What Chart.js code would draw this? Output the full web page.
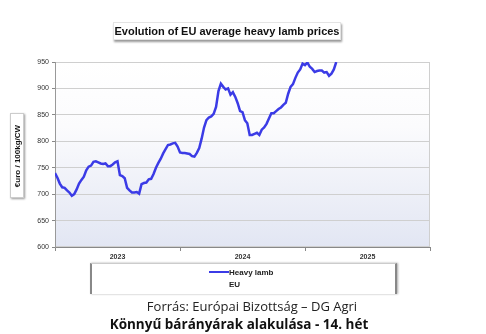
<!DOCTYPE html>
<html><head><meta charset="utf-8">
<script src="https://cdn.jsdelivr.net/npm/chart.js@4/dist/chart.umd.min.js"></script>
<style>
html,body{margin:0;padding:0;background:#fff;width:486px;height:334px;overflow:hidden;position:relative;font-family:"Liberation Sans",Arial,sans-serif;}
#c{position:absolute;left:0;top:0;}
.title{position:absolute;left:113px;top:22px;width:226px;height:16px;line-height:16px;text-align:center;font-weight:bold;font-size:11px;color:#111;background:#fff;border:1px solid #e4e4e4;box-shadow:1px 2px 2px #999;white-space:nowrap;}
.ytitle{position:absolute;left:10px;top:113px;width:12px;height:83px;border:1px solid #ccc;box-shadow:1px 1px 2px #999;background:#fff;}
.ytitle span{position:absolute;left:50%;top:50%;transform:translate(-50%,-50%) rotate(-90deg);font-weight:bold;font-size:8px;white-space:nowrap;color:#111;}
.legend{position:absolute;left:90px;top:263px;width:303px;height:30px;border-left:2px solid #888;border-right:2px solid #888;border-top:1px solid #ccc;box-shadow:1px 0 2px #aaa;background:#fff;}
.lg1{position:absolute;left:117px;top:4px;font-weight:bold;font-size:8px;color:#222;white-space:nowrap;}
.lg1 i{display:inline-block;width:20px;height:2px;background:#3b3be6;vertical-align:middle;margin-right:0px;position:relative;top:-1px;}
.lg2{position:absolute;left:137px;top:16px;font-weight:bold;font-size:8px;color:#222;}
.src{position:absolute;left:0;width:504px;text-align:center;top:297px;font-family:"Open Sans",sans-serif;font-size:13px;color:#222;white-space:nowrap;}
.cap{position:absolute;left:0;width:478px;text-align:center;top:315px;font-family:"Open Sans",sans-serif;font-weight:bold;font-size:13.5px;color:#111;white-space:nowrap;}
</style></head>
<body>
<canvas id="c" width="486" height="334"></canvas>
<div class="title">Evolution of EU average heavy lamb prices</div>
<div class="ytitle"><span>€uro / 100kg/CW</span></div>
<div class="legend"><div class="lg1"><i></i>Heavy lamb</div><div class="lg2">EU</div></div>
<div class="src">Forrás: Európai Bizottság – DG Agri</div>
<div class="cap">Könnyű bárányárak alakulása - 14. hét</div>
<script>
const yearLabels = ["2023","2024","2025"];
const yTicks = [600,650,700,750,800,850,900,950];
const seriesName = "Heavy lamb";
const regionName = "EU";
const weeks2023 = [740,731,720,713,712,707,703,697,700,709,720,727,733,745,752,754,761,762,760,758,757,758,753,753,756,760,762,736,734,730,712,707,703,703,704,701,719,721,722,728,729,738,750,759,767,777,785,793,794,796,797,790];
const weeks2024 = [779,778,778,777,776,772,771,778,787,805,826,840,845,847,852,865,895,909,903,898,900,888,893,884,872,857,855,840,834,812,812,814,816,812,822,826,833,843,853,853,857,861,864,869,873,890,903,908,920,930,936,947];
const weeks2025 = [944,949,941,937,931,933,934,934,930,931,924,928,936,950];
const weeksPerYear = 52;

const allVals = weeks2023.concat(weeks2024, weeks2025);
const points = allVals.map((v,i)=>({x:i, y:v}));

const bgPlugin = {
  id:'bg',
  beforeDraw(chart){
    const {ctx, chartArea:a} = chart;
    const g = ctx.createLinearGradient(0,a.top,0,a.bottom);
    g.addColorStop(0,'#ffffff');
    g.addColorStop(0.35,'#fbfbfd');
    g.addColorStop(1,'#e2e6f3');
    ctx.save();
    ctx.fillStyle = g;
    ctx.fillRect(a.left,a.top,a.right-a.left,a.bottom-a.top);
    ctx.strokeStyle = '#cfcfcf';
    ctx.lineWidth = 1;
    ctx.strokeRect(a.left+0.5,a.top+0.5,a.right-a.left-1,a.bottom-a.top-1);
    ctx.restore();
  }
};

new Chart(document.getElementById('c'),{
  type:'line',
  data:{datasets:[{label:seriesName+' '+regionName,data:points,borderColor:'#3b3be6',borderWidth:2.5,pointRadius:0,tension:0,fill:false}]},
  options:{
    responsive:false,animation:false,
    layout:{padding:{top:62,right:56,left:0,bottom:0}},
    plugins:{legend:{display:false},tooltip:{enabled:false}},
    scales:{
      x:{type:'linear',min:0,max:weeksPerYear*3,
        afterFit(s){s.height=87;},
        afterBuildTicks(s){s.ticks=[0,26,52,78,104,130,156].map(v=>({value:v}));},
        ticks:{autoSkip:false,maxRotation:0,padding:2,color:'#333',font:{size:7,weight:'bold',family:'Liberation Sans'},
          callback(v){const k=(v-26)/52; return Number.isInteger(k)?yearLabels[k]:'';}},
        grid:{drawOnChartArea:false,tickLength:4,color:(c)=>(c.tick && c.tick.value%52===0)?'#888':'rgba(0,0,0,0)'},
        border:{color:'#888',width:1}
      },
      y:{min:600,max:950,
        afterFit(s){s.width=55;},
        afterBuildTicks(s){s.ticks=yTicks.map(v=>({value:v}));},
        ticks:{color:'#333',padding:3,font:{size:7,family:'Liberation Sans'}},
        grid:{color:'#cfcfcf',lineWidth:1,tickLength:3,tickColor:'#888'},
        border:{color:'#999',width:1}
      }
    }
  },
  plugins:[bgPlugin]
});
</script>
</body></html>
